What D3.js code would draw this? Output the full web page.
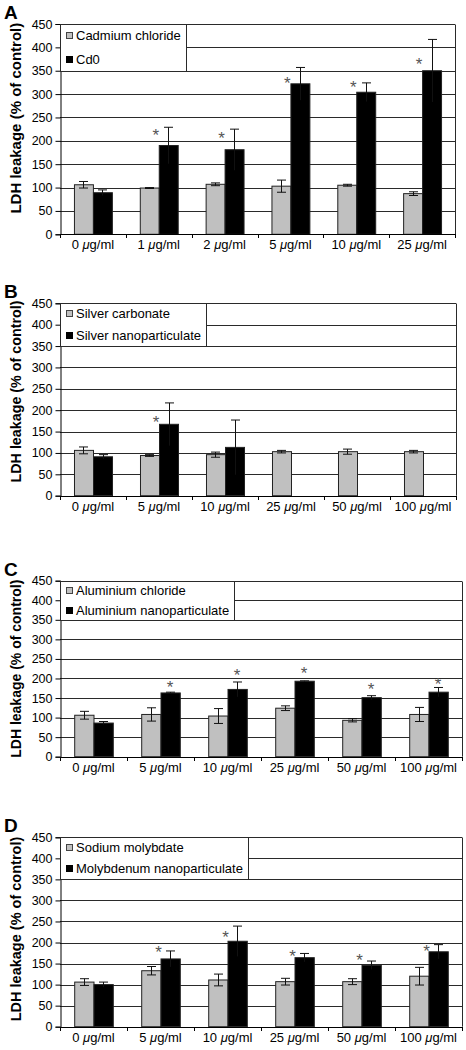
<!DOCTYPE html>
<html><head><meta charset="utf-8">
<script src="https://cdn.jsdelivr.net/npm/d3@7"></script>
<style>
body{margin:0;background:#fff;}
svg text{font-family:"Liberation Sans",Arial,sans-serif;}
</style></head><body>
<svg id="c" width="466" height="1050"></svg>
<script>
// ---------- data ----------
const yTicks = [0,50,100,150,200,250,300,350,400,450];
const yTitle = "LDH leakage (% of control)";

const catsA = ["0","1","2","5","10","25"];
const seriesA = ["Cadmium chloride","Cd0"];
const grayA = [106, 99, 107, 103, 105, 87];
const grayErrA = [7, 1, 3, 13, 2, 4];
const blackA = [89, 190, 181, 322, 304, 350];
const blackErrA = [6, 39, 44, 35, 20, 67];
const starA = [null, 219, 214, 332, 323, 372];

const catsB = ["0","5","10","25","50","100"];
const seriesB = ["Silver carbonate","Silver nanoparticulate"];
const grayB = [106, 94, 96, 103, 103, 103];
const grayErrB = [8, 2, 6, 3, 6, 3];
const blackB = [91, 167, 113, null, null, null];
const blackErrB = [5, 50, 64, null, null, null];
const starB = [null, 181, null, null, null, null];

const catsC = ["0","5","10","25","50","100"];
const seriesC = ["Aluminium chloride","Aluminium nanoparticulate"];
const grayC = [106, 108, 104, 124, 93, 108];
const grayErrC = [10, 17, 19, 6, 4, 18];
const blackC = [86, 163, 172, 193, 151, 165];
const blackErrC = [4, 2, 19, 1, 5, 12];
const starC = [null, 188, 219, 222, 182, 194];

const catsD = ["0","5","10","25","50","100"];
const seriesD = ["Sodium molybdate","Molybdenum nanoparticulate"];
const grayD = [106, 133, 111, 107, 107, 120];
const grayErrD = [8, 10, 14, 8, 7, 21];
const blackD = [100, 161, 203, 164, 146, 178];
const blackErrD = [6, 19, 36, 10, 10, 17];
const starD = [null, 185, 222, 177, 166, 189];

// ---------- layout ----------
const panels = [
  {letter:"A", cats:catsA, series:seriesA, gray:grayA, grayErr:grayErrA, black:blackA, blackErr:blackErrA, star:starA,
   top:24, bottom:234.3, left:60, right:455, starDx:-3, titleShift:-11, titleSize:15},
  {letter:"B", cats:catsB, series:seriesB, gray:grayB, grayErr:grayErrB, black:blackB, blackErr:blackErrB, star:starB,
   top:303.3, bottom:495.7, left:60, right:456, starDx:-3, titleShift:-8, titleSize:14.3},
  {letter:"C", cats:catsC, series:seriesC, gray:grayC, grayErr:grayErrC, black:blackC, blackErr:blackErrC, star:starC,
   top:580.7, bottom:756.7, left:60, right:462, starDx:9.5, titleShift:0, titleSize:14},
  {letter:"D", cats:catsD, series:seriesD, gray:grayD, grayErr:grayErrD, black:blackD, blackErr:blackErrD, star:starD,
   top:837.3, bottom:1026.7, left:60, right:462, starDx:-2, titleShift:-3, titleSize:14.5}
];

const svg = d3.select("#c");
const GRID = "#2a2a2a";
const GRAY = "#c0c0c0";

panels.forEach(p => {
  const g = svg.append("g");
  const y = d3.scaleLinear().domain([0,450]).range([p.bottom, p.top]);
  const x0 = d3.scaleBand().domain(p.cats).range([p.left, p.right]).padding(0);
  const bw = x0.bandwidth();
  const x1 = d3.scaleBand().domain(["g","b"]).range([bw*0.212, bw*0.788]).padding(0);

  // gridlines
  g.append("g").selectAll("line").data(yTicks.filter(t => t > 0)).join("line")
    .attr("x1", p.left).attr("x2", p.right)
    .attr("y1", d => Math.round(y(d))+0.5).attr("y2", d => Math.round(y(d))+0.5)
    .attr("stroke", GRID).attr("stroke-width", 1);
  // right border
  g.append("line").attr("x1", p.right+0.5).attr("x2", p.right+0.5)
    .attr("y1", Math.round(y(450))+0.5).attr("y2", y(0))
    .attr("stroke", GRID);

  // bars
  const rows = p.cats.map((c,i) => ({c, i}));
  const bars = [];
  rows.forEach(r => {
    bars.push({c:r.c, k:"g", v:p.gray[r.i], e:p.grayErr[r.i]});
    if (p.black[r.i] != null) bars.push({c:r.c, k:"b", v:p.black[r.i], e:p.blackErr[r.i]});
  });
  g.append("g").selectAll("rect").data(bars).join("rect")
    .attr("x", d => x0(d.c) + x1(d.k) + 0.5)
    .attr("width", x1.bandwidth())
    .attr("y", d => y(d.v))
    .attr("height", d => y(0) - y(d.v))
    .attr("fill", d => d.k === "g" ? GRAY : "#000")
    .attr("stroke", "#222").attr("stroke-width", 1);

  // error bars
  const eg = g.append("g").attr("stroke", "#111").attr("stroke-width", 1).attr("fill","none");
  bars.forEach(d => {
    if (d.e == null) return;
    const cx = Math.round(x0(d.c) + x1(d.k) + x1.bandwidth()/2) + 0.5;
    const yt = y(d.v + d.e), yb = y(d.v - d.e);
    eg.append("line").attr("x1", cx).attr("x2", cx).attr("y1", yt).attr("y2", yb);
    eg.append("line").attr("x1", cx-4.5).attr("x2", cx+4.5).attr("y1", yt).attr("y2", yt);
    if (d.k === "g") eg.append("line").attr("x1", cx-4.5).attr("x2", cx+4.5).attr("y1", yb).attr("y2", yb);
  });

  // asterisks
  g.append("g").selectAll("text").data(rows.filter(r => p.star[r.i] != null)).join("text")
    .attr("x", r => x0(r.c) + x1("b") + p.starDx)
    .attr("y", r => y(p.star[r.i]) + 9.5)
    .attr("text-anchor", "middle")
    .attr("font-size", 17).attr("fill", "#555")
    .text("*");

  // y axis
  const ya = g.append("g").attr("transform", `translate(${p.left+0.5},0)`)
    .call(d3.axisLeft(y).tickValues(yTicks).tickSize(5).tickPadding(3));
  ya.select(".domain").attr("stroke", "#000");
  ya.selectAll(".tick line").attr("stroke", "#000");
  ya.selectAll(".tick text").attr("font-size", 12.5).attr("fill", "#000")
    .attr("font-family", '"Liberation Sans",Arial,sans-serif');

  // x axis
  const xa = g.append("g").attr("transform", `translate(0,${p.bottom})`)
    .call(d3.axisBottom(x0).tickSize(0).tickPadding(0));
  xa.select(".domain").remove();
  xa.selectAll(".tick text").attr("y", 15).attr("dy", 0).attr("font-size", 13).attr("fill", "#000")
    .attr("font-family", '"Liberation Sans",Arial,sans-serif')
    .each(function(d){
      const t = d3.select(this); t.text("");
      t.append("tspan").text(d + " ");
      t.append("tspan").attr("font-style","italic").text("\u03bc");
      t.append("tspan").text("g/ml");
    });
  g.append("line").attr("x1", p.left).attr("x2", p.right+1)
    .attr("y1", Math.round(p.bottom)+0.5).attr("y2", Math.round(p.bottom)+0.5).attr("stroke", "#000");
  const bounds = p.cats.map(c => x0(c)).concat([x0.range()[1]]);
  g.append("g").selectAll("line").data(bounds).join("line")
    .attr("x1", d => Math.round(d)+0.5).attr("x2", d => Math.round(d)+0.5)
    .attr("y1", Math.round(p.bottom)).attr("y2", Math.round(p.bottom)+4)
    .attr("stroke", "#000");

  // legend
  const lg = g.append("g");
  const box = lg.append("rect").attr("x", p.left+0.5).attr("y", Math.round(y(450))+0.5)
    .attr("height", Math.round(y(350)) - Math.round(y(450)))
    .attr("fill", "#fff").attr("stroke", GRID);
  const h = y(350) - y(450);
  let maxW = 0;
  p.series.forEach((s, i) => {
    const cy = y(450) + h * (i === 0 ? 0.25 : 0.75);
    lg.append("rect").attr("x", p.left + 6.5).attr("y", Math.round(cy - 3.5)+0.5)
      .attr("width", 6).attr("height", 6)
      .attr("fill", i === 0 ? GRAY : "#000").attr("stroke", i === 0 ? "#444" : "#000");
    const t = lg.append("text").attr("x", p.left + 16).attr("y", cy + 4.5)
      .attr("font-size", 13).attr("fill", "#000").text(s);
    maxW = Math.max(maxW, t.node().getComputedTextLength());
  });
  box.attr("width", Math.round(16 + maxW + 5));

  // panel letter
  g.append("text").attr("x", 4).attr("y", p.top - 5)
    .attr("font-size", 19).attr("font-weight", "bold").attr("fill", "#000").text(p.letter);

  // y title
  const cy = (p.top + p.bottom)/2 + p.titleShift;
  g.append("text").attr("transform", `translate(21,${cy}) rotate(-90)`)
    .attr("text-anchor", "middle").attr("font-size", p.titleSize).attr("font-weight", "bold")
    .attr("fill", "#000").text(yTitle);
});
</script>
</body></html>
